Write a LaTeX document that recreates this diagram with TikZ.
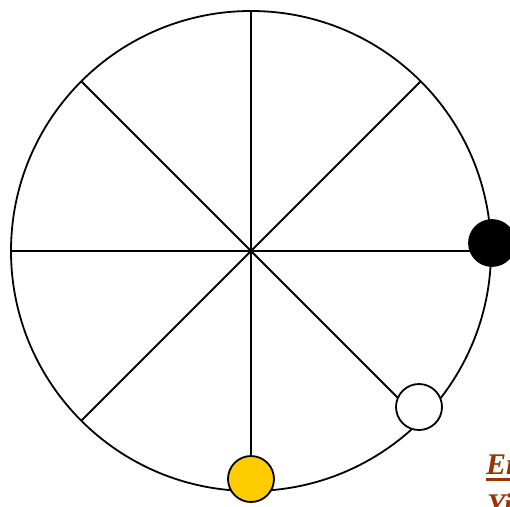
\documentclass[tikz,border=0pt]{standalone}
\usepackage{fontspec}
\setmainfont{Liberation Serif}
\usetikzlibrary{positioning}
\definecolor{cSun}  {HTML}{FFCC00}
\definecolor{cNote} {HTML}{993300}

\begin{document}
\begin{tikzpicture}[x=1pt, y=-1pt,
      wheel/.style = {draw, circle, line width=1.8pt, minimum size=480pt, inner sep=0pt, outer sep=0pt},
      spoke/.style = {draw, line width=1.8pt},
      dot/.style   = {draw, circle, line width=1.8pt, minimum size=46pt, inner sep=0pt},
      note/.style  = {text=cNote, font=\fontsize{30}{34}\selectfont\bfseries\itshape, inner sep=0pt, anchor=base west} ]
    \useasboundingbox (0,0) rectangle (510,506);
    \node[wheel] (w) at (251,251) {};
    \foreach \a in {0,45,...,315}
      \draw[spoke] (w.center) -- (w.\a);
    \node[dot, fill=black] (d1) at (492,243) {};
    \node[dot, fill=white] (d2) at (419,407) {};
    \node[dot, fill=cSun]  (d3) at (251,479) {};
    \node[note] (t1) at (486,474) {Er};
    \draw[cNote, line width=2.6pt] (t1.base west) ++(0,5.5) -- ++(40,0);
    \node[note] (t2) at (487,514) {Yi};
  \end{tikzpicture}
\end{document}
